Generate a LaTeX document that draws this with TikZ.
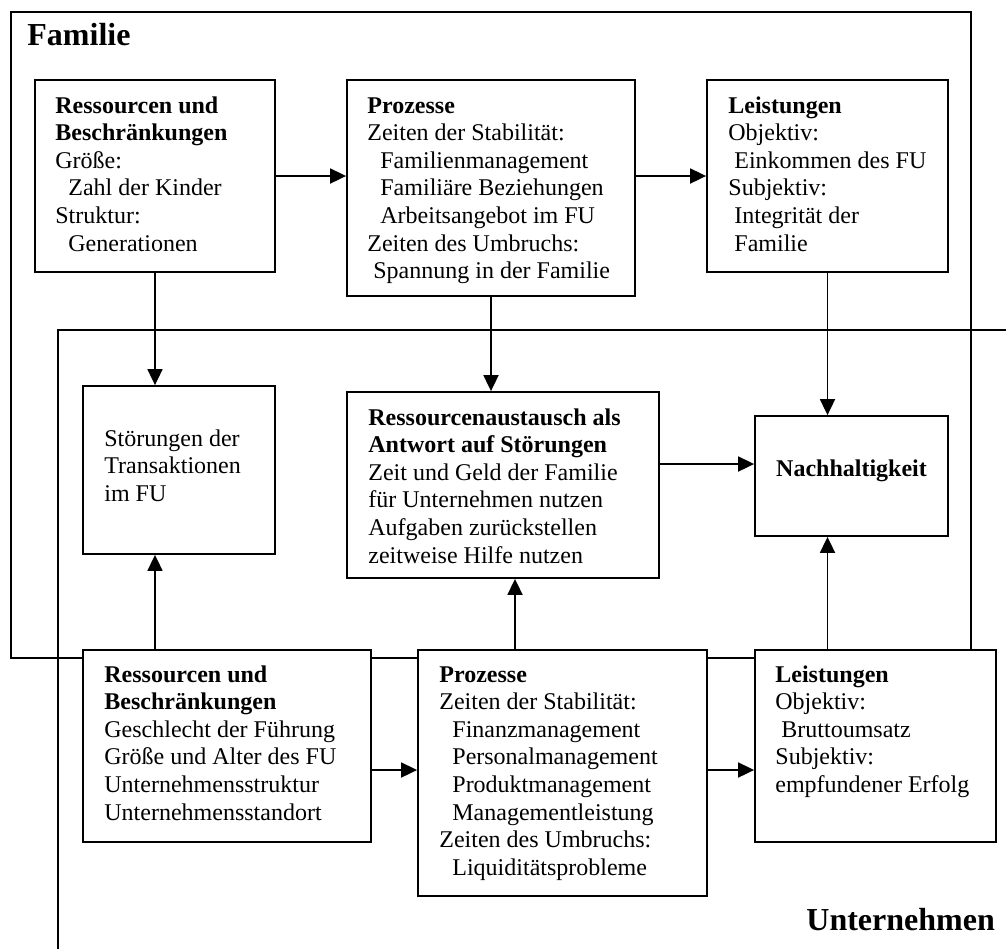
\documentclass[tikz,border=0pt]{standalone}
\usepackage{fontspec}
\setmainfont{Liberation Serif}
\usetikzlibrary{arrows.meta,fit}
% lines of a box text, first baseline is the node's base
\newcommand{\boxlines}[1]{\begin{tabular}[t]{@{}l@{}}#1\end{tabular}}
\newcommand{\indA}{\hspace*{3pt}}
\newcommand{\indB}{\hspace*{6.5pt}}
\begin{document}
\begin{tikzpicture}[x=0.5pt,y=-0.5pt,
  frame/.style={draw, line width=1.1pt, inner sep=0pt},
  box/.style={draw, line width=0.9pt, fill=white, inner sep=0pt},
  txt/.style={anchor=base west, inner sep=0pt, font=\fontsize{12}{13.8}\selectfont},
  title/.style={anchor=base west, inner sep=0pt, font=\fontsize{16}{19}\selectfont\bfseries},
  arr/.style={line width=0.9pt, -{Triangle[length=8pt,width=7.5pt]}}]
\useasboundingbox (0,0) rectangle (1006,949);

% the two overlapping areas
\node[frame, fit={(11,12) (971,658)}] (fam) {};
\draw[line width=1.1pt] (1006,330) -- (58,330) -- (58,949);
\node[title] (famt) at (27,45) {Familie};
\node[title] (unt) at (806,930) {Unternehmen};

% family row
\node[box, fit={(35,80) (275,272)}] (A1) {};
\node[box, fit={(347,80) (635,296)}] (A2) {};
\node[box, fit={(707,80) (948,272)}] (A3) {};
% middle row
\node[box, fit={(83,386) (275,554)}] (B1) {};
\node[box, fit={(347,392) (659,578)}] (B2) {};
\node[box, fit={(755,416) (948,536)}] (B3) {};
% business row
\node[box, fit={(83,650) (371,842)}] (C1) {};
\node[box, fit={(418,650) (707,896)}] (C2) {};
\node[box, fit={(755,650) (996,842)}] (C3) {};

% texts
\node[txt] (A1t) at (55,113) {\boxlines{\textbf{Ressourcen und}\\ \textbf{Beschränkungen}\\ Größe:\\ \indB Zahl der Kinder\\ Struktur:\\ \indB Generationen}};
\node[txt] (A2t) at (367,113) {\boxlines{\textbf{Prozesse}\\ Zeiten der Stabilität:\\ \indB Familienmanagement\\ \indB Familiäre Beziehungen\\ \indB Arbeitsangebot im FU\\ Zeiten des Umbruchs:\\ \indA Spannung in der Familie}};
\node[txt] (A3t) at (728,113) {\boxlines{\textbf{Leistungen}\\ Objektiv:\\ \indA Einkommen des FU\\ Subjektiv:\\ \indA Integrität der\\ \indA Familie}};

\node[txt] (B1t) at (104,446) {\boxlines{Störungen der\\ Transaktionen\\ im FU}};
\node[txt] (B2t) at (368,425) {\boxlines{\textbf{Ressourcenaustausch als}\\ \textbf{Antwort auf Störungen}\\ Zeit und Geld der Familie\\ für Unternehmen nutzen\\ Aufgaben zurückstellen\\ zeitweise Hilfe nutzen}};
\node[txt, anchor=base] (B3t) at (851.5,476) {\textbf{Nachhaltigkeit}};

\node[txt] (C1t) at (104,682) {\boxlines{\textbf{Ressourcen und}\\ \textbf{Beschränkungen}\\ Geschlecht der Führung\\ Größe und Alter des FU\\ Unternehmensstruktur\\ Unternehmensstandort}};
\node[txt] (C2t) at (439,682) {\boxlines{\textbf{Prozesse}\\ Zeiten der Stabilität:\\ \indB Finanzmanagement\\ \indB Personalmanagement\\ \indB Produktmanagement\\ \indB Managementleistung\\ Zeiten des Umbruchs:\\ \indB Liquiditätsprobleme}};
\node[txt] (C3t) at (775,682) {\boxlines{\textbf{Leistungen}\\ Objektiv:\\ \indA Bruttoumsatz\\ Subjektiv:\\ empfundener Erfolg}};

% connectors
\draw[arr] (A1.east) -- (A2.west |- A1.east);
\draw[arr] (A2.east |- A3.west) -- (A3.west);
\draw[arr] (A1.south) -- (A1.south |- B1.north);
\draw[arr] (A2.south) -- (A2.south |- B2.north);
\draw[arr] (A3.south) -- (A3.south |- B3.north);
\draw[arr] (B2.east |- 0,464) -- (B3.west |- 0,464);
\draw[arr] (C1.east |- 0,770) -- (C2.west |- 0,770);
\draw[arr] (C2.east |- 0,770) -- (C3.west |- 0,770);
\draw[arr] (C1.north -| A1.south) -- (B1.south -| A1.south);
\draw[arr] (C2.north -| 515,0) -- (B2.south -| 515,0);
\draw[arr] (C3.north -| A3.south) -- (B3.south -| A3.south);
\end{tikzpicture}
\end{document}
